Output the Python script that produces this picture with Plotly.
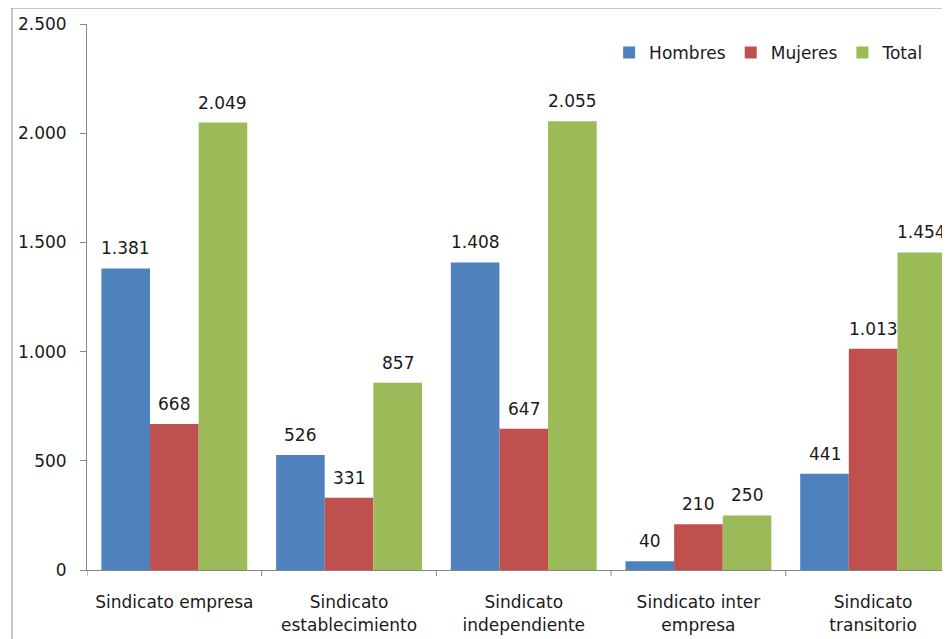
import plotly.graph_objects as go

categories = ["Sindicato empresa", "Sindicato<br>establecimiento", "Sindicato<br>independiente",
              "Sindicato inter<br>empresa", "Sindicato<br>transitorio"]
hombres = [1381, 526, 1408, 40, 441]
mujeres = [668, 331, 647, 210, 1013]
total = [2049, 857, 2055, 250, 1454]
series_names = ["Hombres", "Mujeres", "Total"]
series_colors = ["#4F81BD", "#C0504D", "#9BBB59"]
y_ticks = [0, 500, 1000, 1500, 2000, 2500]

FONT = "DejaVu Sans"
TXT = "#1a1a1a"
BARGAP = 0.165

fig = go.Figure()
x_idx = list(range(len(categories)))
all_series = [hombres, mujeres, total]
for name, vals, col in zip(series_names, all_series, series_colors):
    fig.add_trace(go.Bar(
        x=x_idx, y=vals, name=name, marker=dict(color=col, line=dict(width=0)),
    ))

# data labels above bars
n = len(all_series)
bw = (1 - BARGAP) / n
for i, vals in enumerate(all_series):
    for xi, v in zip(x_idx, vals):
        fig.add_annotation(
            x=xi + (i - (n - 1) / 2) * bw, y=v, xref="x", yref="y",
            text=f"{v:,}".replace(",", "."), showarrow=False,
            yanchor="bottom", yshift=8,
            font=dict(family=FONT, size=17, color=TXT),
        )

# the page body adds an 8px offset; margins compensate
fig.update_layout(
    width=950, height=639,
    margin=dict(l=79, r=8, t=16, b=77, autoexpand=False),
    paper_bgcolor="white", plot_bgcolor="white",
    barmode="group", bargap=BARGAP, bargroupgap=0,
    separators=",.",
    font=dict(family=FONT, size=17, color=TXT),
    legend=dict(orientation="h", x=0.605, xanchor="left", y=0.947, yanchor="middle",
                font=dict(family=FONT, size=17, color=TXT), bgcolor="rgba(0,0,0,0)",
                traceorder="normal", itemwidth=30),
    xaxis=dict(
        tickmode="array", tickvals=x_idx, ticktext=categories, automargin=False,
        range=[-0.5, 4.44], showline=True, linecolor="#868686", linewidth=1,
        ticks="", showgrid=False, ticklabelstandoff=17,
        tickfont=dict(family=FONT, size=17, color=TXT), zeroline=False,
    ),
    yaxis=dict(
        range=[0, 2500], tickvals=y_ticks, tickformat=",d", automargin=False,
        showline=True, linecolor="#868686", linewidth=1,
        ticks="outside", ticklen=6, tickcolor="#868686", showgrid=False,
        zeroline=False, ticklabelstandoff=10,
        tickfont=dict(family=FONT, size=17, color=TXT),
    ),
)

# x-axis boundary ticks between categories
for b in [-0.5, 0.5, 1.5, 2.5, 3.5]:
    fig.add_shape(type="line", xref="x", yref="paper", x0=b, x1=b, y0=0, y1=-0.011,
                  line=dict(color="#868686", width=1))

# outer chart border
fig.add_shape(type="rect", xref="paper", yref="paper", x0=-0.0869, x1=1.2, y0=-0.3, y1=1.0293,
              line=dict(color="#8c8c8c", width=1), fillcolor="rgba(0,0,0,0)", layer="below")

fig.write_html("out.html")
